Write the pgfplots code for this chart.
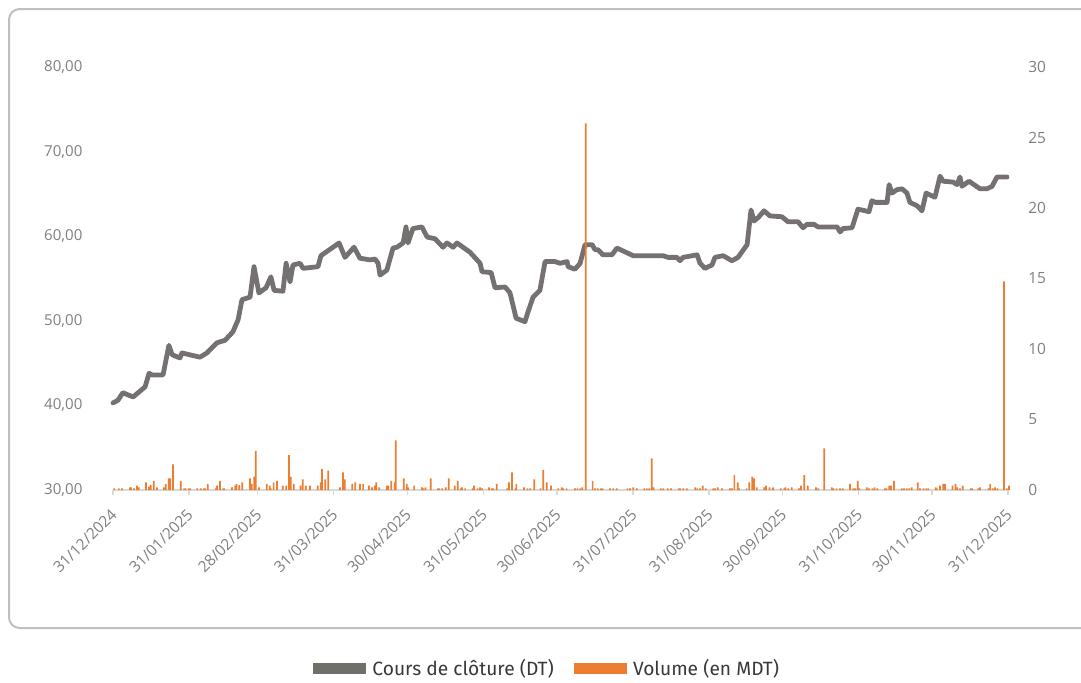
\documentclass[border=0pt]{standalone}
\usepackage{fontspec}
\setmainfont{Open Sans}
\newfontfamily\legendfont{Fira Sans}
\usepackage{pgfplots}
\pgfplotsset{compat=1.18}
\definecolor{linegray}{HTML}{767171}
\definecolor{leggray}{HTML}{6F706A}
\definecolor{barorange}{HTML}{ED7D31}
\definecolor{ticktext}{HTML}{7F7F7F}
\definecolor{axisgray}{HTML}{D9D9D9}
\definecolor{framegray}{HTML}{BFBFBF}
\begin{document}
\begin{tikzpicture}
\path[use as bounding box] (0pt,0pt) rectangle (810.75pt,-511.5pt);
\draw[framegray, line width=1.5pt, rounded corners=8pt] (6.75pt,-6.75pt) rectangle (830pt,-471pt);
% price axis
\begin{axis}[
  at={(84.75pt,-367.5pt)}, anchor=south west,
  scale only axis, width=671.25pt, height=317.25pt,
  xmin=0, xmax=365, ymin=30, ymax=80,
  axis line style={draw=none},
  xtick pos=bottom,
  xtick={0,31,59,90,120,151,181,212,243,273,304,334,365},
  xticklabels={\mbox{31/12/2024},\mbox{31/01/2025},\mbox{28/02/2025},\mbox{31/03/2025},\mbox{30/04/2025},\mbox{31/05/2025},\mbox{30/06/2025},\mbox{31/07/2025},\mbox{31/08/2025},\mbox{30/09/2025},\mbox{31/10/2025},\mbox{30/11/2025},\mbox{31/12/2025}},
  x tick style={draw=axisgray, line width=1.1pt},
  tick align=outside, major tick length=3.75pt,
  ytick={30,40,50,60,70,80},
  yticklabels={\mbox{30,00},\mbox{40,00},\mbox{50,00},\mbox{60,00},\mbox{70,00},\mbox{80,00}},
  y tick style={draw=none},
  ticklabel style={font=\fontsize{11.3pt}{13pt}\selectfont, text=ticktext},
  xticklabel style={font=\fontsize{11.6pt}{13pt}\selectfont, xshift=-2.25pt, yshift=-8pt, rotate=45, anchor=north east, inner sep=1pt},
  yticklabel style={anchor=east, inner sep=0pt, xshift=-19pt},
  clip=false,
  extra description/.code={\draw[axisgray, line width=1.1pt] (rel axis cs:0,0) -- (rel axis cs:1,0);},
]
\addplot[color=linegray, line width=3.6pt, line join=round, line cap=round] coordinates {
(0,40.3) (2,40.6) (4,41.5) (8.2,41.0) (13.1,42.2) (14.7,43.8) (15.9,43.6) (20.4,43.6)
(22.8,47.1) (24.1,46.0) (27.3,45.6) (28.1,46.2) (35.5,45.7) (38.3,46.2) (42.4,47.4)
(45.7,47.7) (48.9,48.7) (51.0,50.1) (52.6,52.5) (55.9,52.8) (57.5,56.4) (59.5,53.3)
(62.4,53.9) (64.4,55.2) (65.7,53.6) (69.3,53.5) (70.6,56.8) (72.2,54.6) (73.4,56.6)
(76.3,56.8) (77.5,56.2) (83.6,56.4) (84.8,57.7) (92.2,59.2) (94.6,57.5) (98.3,58.7)
(100.7,57.4) (104.8,57.2) (106.9,57.3) (108.1,56.8) (108.9,55.4) (111.7,56.0)
(114.2,58.6) (115.8,58.7) (118.3,59.2) (119.5,61.1) (120.3,59.2) (122.3,60.9)
(126.0,61.1) (128.1,59.9) (131.3,59.7) (134.6,58.7) (136.2,59.2) (138.7,58.7)
(140.3,59.2) (145.6,58.1) (149.7,56.8) (150.5,55.8) (154.2,55.7) (155.8,53.9)
(159.9,54.0) (161.9,53.3) (164.4,50.3) (168.0,49.9) (169.2,51.0) (171.3,52.8)
(174.1,53.6) (176.2,57.0) (180.3,57.0) (182.3,56.8) (185.2,57.0) (185.6,56.4)
(188.4,56.1) (190.5,56.8) (192.5,59.0) (195.4,59.0) (196.6,58.4) (197.8,58.4)
(199.8,57.8) (203.5,57.8) (205.5,58.6) (212.1,57.7) (224.3,57.7) (226.3,57.5)
(230.0,57.5) (231.2,57.1) (232.5,57.5) (238.2,57.8) (239.4,56.8) (241.4,56.2)
(244.3,56.6) (245.5,57.5) (248.8,57.7) (252.4,57.1) (254.9,57.5) (258.6,59.0)
(260.2,63.1) (261.4,61.8) (263.1,62.2) (265.5,63.0) (267.9,62.4) (272.8,62.3)
(275.3,61.7) (279.4,61.7) (281.4,61.0) (283.0,61.4) (285.9,61.4) (287.5,61.1)
(295.3,61.1) (296.5,60.5) (297.7,60.9) (301.4,61.0) (303.8,63.2) (308.3,62.9)
(309.5,64.2) (310.8,64.0) (315.7,64.0) (316.5,66.1) (317.7,65.1) (319.7,65.5)
(321.8,65.6) (323.8,65.1) (325.0,64.0) (327.9,63.6) (329.9,63.0) (331.6,65.1)
(335.2,64.6) (337.3,67.1) (338.5,66.5) (342.6,66.4) (344.2,66.1) (345.4,67.0)
(346.2,65.9) (349.1,66.5) (353.6,65.6) (356.4,65.6) (358.5,65.9) (360.5,67.0)
(364.6,67.0)
};
\end{axis}
% volume axis
\begin{axis}[
  at={(84.75pt,-367.5pt)}, anchor=south west,
  scale only axis, width=671.25pt, height=317.25pt,
  xmin=0, xmax=365, ymin=0, ymax=30,
  axis x line=none, axis y line*=right,
  y axis line style={draw=none},
  ytick={0,5,10,15,20,25,30},
  yticklabels={\mbox{0},\mbox{5},\mbox{10},\mbox{15},\mbox{20},\mbox{25},\mbox{30}},
  y tick style={draw=none},
  ticklabel style={font=\fontsize{11.6pt}{13pt}\selectfont, text=ticktext},
  yticklabel style={anchor=west, inner sep=0pt, xshift=15pt},
  clip=false,
  legend columns=2,
  legend style={at={(0.484,-0.421)}, anchor=center, draw=none, fill=none,
    font=\legendfont\fontsize{14.4pt}{16pt}\selectfont, text=black!78,
    /tikz/every even column/.append style={column sep=15pt},
    nodes={inner sep=0pt}},
]
\addlegendimage{legend image code/.code={\fill[leggray] (0pt,-3.75pt) rectangle (39pt,3.75pt);}}
\addlegendentry{\hspace{5pt}Cours de clôture (DT)}
\addlegendimage{legend image code/.code={\fill[barorange] (0pt,-3.75pt) rectangle (39pt,3.75pt);}}
\addlegendentry{\hspace{5pt}Volume (en MDT)}
\addplot[ybar, bar width=0.7, fill=barorange, draw=none, forget plot] coordinates {
(0.5,0.12) (2.4,0.12) (3.7,0.12) (6.9,0.19) (7.3,0.19) (8.6,0.12) (9.8,0.31) (10.5,0.19)
(13.5,0.54) (14.7,0.24) (15.4,0.35) (16.6,0.64) (17.9,0.19) (20.8,0.19) (21.5,0.43)
(22.7,0.83) (23.4,0.83) (24.5,1.82) (27.6,0.64) (29.0,0.12) (29.6,0.12) (30.9,0.12)
(31.4,0.12) (34.4,0.12) (35.8,0.12) (37.0,0.12) (37.5,0.12) (38.6,0.43) (41.9,0.12)
(42.4,0.31) (43.6,0.64) (45.0,0.12) (45.4,0.12) (48.5,0.19) (49.8,0.31) (50.4,0.43)
(51.5,0.35) (52.7,0.54) (55.9,0.83) (56.6,0.43) (57.6,0.95) (58.2,2.77) (59.5,0.19)
(62.7,0.43) (63.9,0.31) (64.3,0.12) (65.5,0.54) (66.9,0.64) (69.2,0.31) (70.6,0.31)
(71.8,2.48) (72.5,0.95) (73.7,0.43) (76.5,0.31) (77.4,0.76) (78.6,0.31) (80.3,0.31)
(83.5,0.31) (84.7,0.54) (85.2,1.49) (86.6,0.76) (87.8,1.37) (92.6,0.19) (93.8,1.25)
(94.5,0.76) (97.6,0.43) (98.8,0.54) (100.7,0.43) (102.0,0.43) (104.4,0.31) (105.6,0.19)
(106.7,0.31) (107.4,0.54) (108.6,0.19) (111.6,0.31) (112.3,0.31) (113.5,0.64)
(114.9,0.54) (115.3,3.52) (118.6,0.83) (119.8,0.43) (120.3,0.19) (122.8,0.31)
(126.0,0.19) (126.6,0.12) (127.5,0.19) (129.6,0.83) (132.5,0.12) (133.1,0.12)
(134.3,0.12) (135.7,0.19) (136.9,0.83) (139.4,0.31) (140.6,0.64) (141.8,0.12)
(142.3,0.19) (143.6,0.12) (146.7,0.12) (147.2,0.31) (148.7,0.12) (149.7,0.19)
(150.5,0.12) (153.3,0.19) (154.6,0.12) (155.1,0.12) (156.5,0.43) (160.8,0.12)
(161.5,0.54) (162.7,1.25) (164.1,0.12) (164.5,0.43) (167.6,0.19) (169.0,0.12)
(170.2,0.12) (171.8,0.76) (174.3,0.12) (175.5,1.42) (176.9,0.54) (178.6,0.31)
(181.6,0.12) (183.0,0.19) (183.6,0.12) (185.0,0.12) (188.4,0.12) (189.4,0.12)
(190.5,0.12) (191.4,0.19) (192.8,26.0) (195.6,0.64) (196.6,0.12) (197.7,0.12)
(199.0,0.12) (199.6,0.12) (202.7,0.12) (204.0,0.12) (205.4,0.12) (209.8,0.12)
(210.8,0.12) (212.2,0.19) (213.6,0.12) (216.6,0.12) (217.7,0.12) (218.7,0.12)
(219.7,2.25) (220.4,0.19) (223.4,0.12) (224.4,0.12) (226.2,0.12) (227.6,0.12)
(230.7,0.12) (231.2,0.12) (232.6,0.12) (234.0,0.12) (237.4,0.19) (238.3,0.12)
(239.4,0.12) (240.5,0.31) (241.7,0.12) (244.8,0.12) (245.5,0.12) (246.6,0.19)
(248.4,0.12) (251.6,0.12) (252.4,0.12) (253.4,1.06) (254.8,0.54) (255.3,0.12)
(258.4,0.12) (259.5,0.54) (260.7,0.95) (261.4,0.83) (262.5,0.19) (265.6,0.19)
(266.3,0.31) (267.7,0.19) (268.9,0.12) (269.3,0.19) (272.3,0.12) (273.7,0.12)
(274.3,0.19) (275.4,0.12) (276.8,0.19) (279.8,0.12) (280.6,0.31) (281.9,1.06)
(283.3,0.31) (286.7,0.19) (287.6,0.12) (290.1,2.96) (293.1,0.19) (293.8,0.12)
(295.1,0.12) (296.5,0.12) (297.6,0.12) (300.6,0.43) (301.9,0.12) (302.7,0.12)
(303.7,0.64) (304.4,0.12) (307.4,0.19) (308.3,0.12) (309.7,0.12) (310.6,0.19)
(311.7,0.12) (314.8,0.12) (315.5,0.12) (316.6,0.31) (317.3,0.31) (318.5,0.64)
(321.7,0.12) (322.6,0.12) (323.7,0.12) (324.7,0.12) (325.7,0.19) (328.2,0.54)
(329.1,0.12) (330.5,0.12) (331.6,0.12) (332.5,0.12) (335.5,0.19) (335.9,0.12)
(337.3,0.31) (338.6,0.43) (339.3,0.43) (342.4,0.31) (343.6,0.43) (344.3,0.19)
(345.4,0.12) (346.5,0.31) (349.8,0.12) (350.4,0.12) (352.9,0.12) (353.6,0.19)
(357.0,0.12) (357.7,0.43) (358.8,0.12) (359.7,0.19) (360.7,0.12) (363.4,14.8)
(364.5,0.12) (365.4,0.31)
};
\end{axis}
\end{tikzpicture}
\end{document}
